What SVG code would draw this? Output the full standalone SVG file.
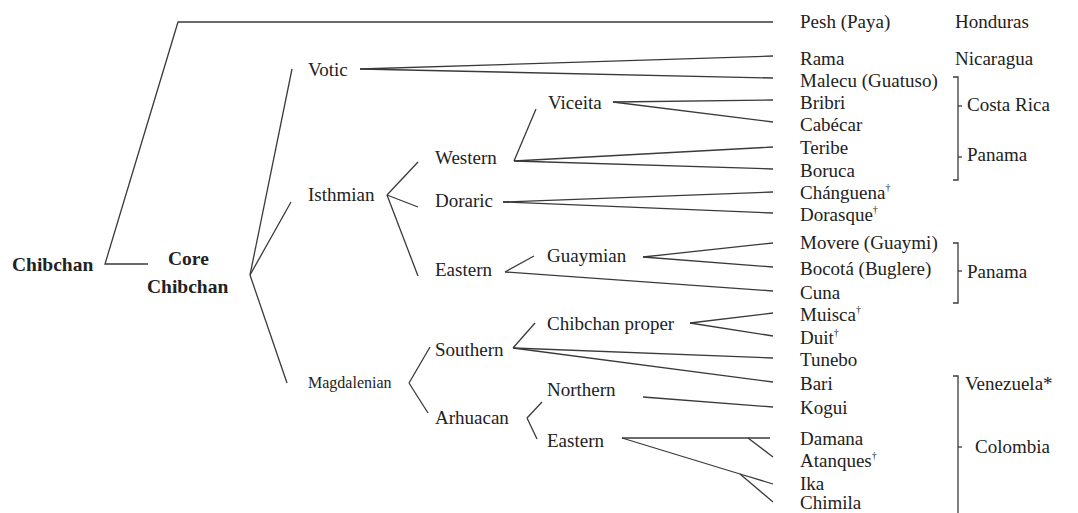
<svg xmlns="http://www.w3.org/2000/svg" width="1078" height="513" viewBox="0 0 1078 513">
<style>
text{font-family:"Liberation Serif","Times New Roman",serif;fill:#222;font-size:19px}
.b{font-weight:bold;font-size:19.5px}
.sm{font-size:16px}
.c line,.c polyline,.br polyline,.br line{stroke:#3a3a3a;stroke-width:1.3;fill:none}
.top{stroke:#666;stroke-width:2}
.sup{font-size:10px}
</style>
<rect width="1078" height="513" fill="#fff"/>
<g id="connectors" class="c">
<polyline class="top" points="773,22 178,22 105,264 148,264"/>
<line x1="250" y1="275" x2="292" y2="69"/>
<line x1="250" y1="275" x2="291" y2="202"/>
<line x1="250" y1="275" x2="287" y2="383"/>
<line x1="360" y1="69" x2="773" y2="56"/>
<line x1="360" y1="69" x2="773" y2="78"/>
<line x1="387" y1="195" x2="418" y2="162"/>
<line x1="387" y1="195" x2="418" y2="207"/>
<line x1="387" y1="195" x2="418" y2="276"/>
<line x1="514" y1="161" x2="536" y2="109"/>
<line x1="514" y1="161" x2="773" y2="147"/>
<line x1="514" y1="161" x2="773" y2="169"/>
<line x1="613" y1="102" x2="773" y2="100"/>
<line x1="613" y1="102" x2="773" y2="122"/>
<line x1="503" y1="202" x2="773" y2="192"/>
<line x1="503" y1="202" x2="773" y2="213"/>
<line x1="505" y1="272" x2="534" y2="256"/>
<line x1="505" y1="272" x2="773" y2="291"/>
<line x1="643" y1="257" x2="773" y2="243"/>
<line x1="643" y1="257" x2="773" y2="267"/>
<line x1="409" y1="383" x2="430" y2="347"/>
<line x1="409" y1="383" x2="428" y2="413"/>
<line x1="513" y1="348" x2="535" y2="323"/>
<line x1="513" y1="348" x2="773" y2="358"/>
<line x1="513" y1="348" x2="773" y2="382"/>
<line x1="690" y1="323" x2="773" y2="313"/>
<line x1="690" y1="323" x2="773" y2="336"/>
<line x1="643" y1="397" x2="773" y2="407"/>
<line x1="527" y1="418" x2="542" y2="402"/>
<line x1="527" y1="418" x2="537" y2="439"/>
<line x1="622" y1="438" x2="770" y2="438"/>
<line x1="748" y1="438" x2="773" y2="457"/>
<polyline points="622,438 740,474 773,484"/>
<line x1="740" y1="474" x2="773" y2="502"/>
</g>
<g id="n-chibchan"><text class="b" x="12" y="271">Chibchan</text></g>
<g id="n-core"><text class="b" x="168" y="265">Core</text><text class="b" x="147" y="293">Chibchan</text></g>
<g id="n-votic"><text x="308" y="76">Votic</text></g>
<g id="n-isthmian"><text x="308" y="201">Isthmian</text></g>
<g id="n-magdalenian"><text class="sm" x="308" y="388">Magdalenian</text></g>
<g id="n-western"><text x="435" y="164">Western</text></g>
<g id="n-doraric"><text x="435" y="207">Doraric</text></g>
<g id="n-eastern"><text x="435" y="276">Eastern</text></g>
<g id="n-southern"><text x="435" y="356">Southern</text></g>
<g id="n-arhuacan"><text x="435" y="424">Arhuacan</text></g>
<g id="n-viceita"><text x="548" y="109">Viceita</text></g>
<g id="n-guaymian"><text x="547" y="262">Guaymian</text></g>
<g id="n-chibchanproper"><text x="547" y="330">Chibchan proper</text></g>
<g id="n-northern"><text x="547" y="396">Northern</text></g>
<g id="n-eastern2"><text x="547" y="447">Eastern</text></g>
<g id="leaves">
<g id="l-pesh"><text x="800" y="28">Pesh (Paya)</text></g>
<g id="l-rama"><text x="800" y="65">Rama</text></g>
<g id="l-malecu"><text x="800" y="87">Malecu (Guatuso)</text></g>
<g id="l-bribri"><text x="800" y="109">Bribri</text></g>
<g id="l-cabecar"><text x="800" y="131">Cabécar</text></g>
<g id="l-teribe"><text x="800" y="154">Teribe</text></g>
<g id="l-boruca"><text x="800" y="177">Boruca</text></g>
<g id="l-changuena"><text x="800" y="199">Chánguena<tspan class="sup" dy="-8">†</tspan></text></g>
<g id="l-dorasque"><text x="800" y="221">Dorasque<tspan class="sup" dy="-8">†</tspan></text></g>
<g id="l-movere"><text x="800" y="249">Movere (Guaymi)</text></g>
<g id="l-bocota"><text x="800" y="275">Bocotá (Buglere)</text></g>
<g id="l-cuna"><text x="800" y="299">Cuna</text></g>
<g id="l-muisca"><text x="800" y="321">Muisca<tspan class="sup" dy="-8">†</tspan></text></g>
<g id="l-duit"><text x="800" y="344">Duit<tspan class="sup" dy="-8">†</tspan></text></g>
<g id="l-tunebo"><text x="800" y="366">Tunebo</text></g>
<g id="l-bari"><text x="800" y="390">Bari</text></g>
<g id="l-kogui"><text x="800" y="414">Kogui</text></g>
<g id="l-damana"><text x="800" y="445">Damana</text></g>
<g id="l-atanques"><text x="800" y="467">Atanques<tspan class="sup" dy="-8">†</tspan></text></g>
<g id="l-ika"><text x="800" y="490">Ika</text></g>
<g id="l-chimila"><text x="800" y="509">Chimila</text></g>
</g>
<g id="countries">
<g id="c-honduras"><text x="955" y="28">Honduras</text></g>
<g id="c-nicaragua"><text x="955" y="65">Nicaragua</text></g>
<g id="c-costarica" class="br"><polyline points="953,77 958,77 958,135"/><line x1="958" y1="106" x2="962" y2="106"/><text x="967" y="111">Costa Rica</text></g>
<g id="c-panama1" class="br"><polyline points="958,135 958,180 953,180"/><line x1="958" y1="157" x2="962" y2="157"/><text x="967" y="161">Panama</text></g>
<g id="c-panama2" class="br"><polyline points="953,243 958,243 958,303 953,303"/><line x1="958" y1="271" x2="962" y2="271"/><text x="967" y="278">Panama</text></g>
<g id="c-venezuela"><text x="965" y="390">Venezuela*</text></g>
<g id="c-colombia" class="br"><polyline points="953,376 958,376 958,513"/><line x1="958" y1="447" x2="962" y2="447"/><text x="975" y="453">Colombia</text></g>
</g>
</svg>
